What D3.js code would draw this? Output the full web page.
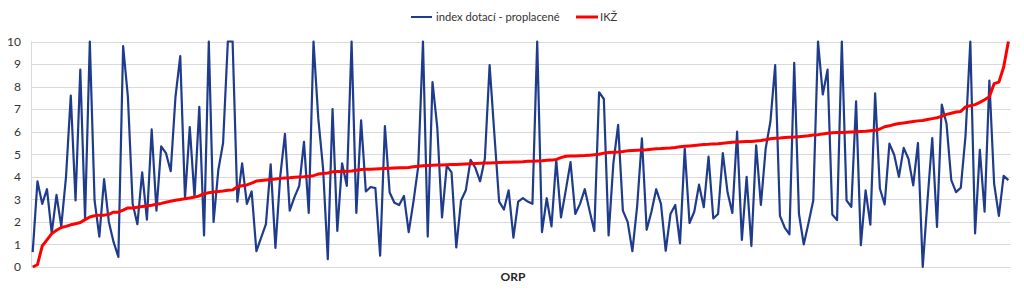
<!DOCTYPE html>
<html><head><meta charset="utf-8">
<script src="https://cdn.jsdelivr.net/npm/d3@7"></script>
<style>
html,body{margin:0;padding:0;background:#fff;}
svg{display:block;font-family:Lato,"Open Sans",sans-serif;}
</style></head>
<body><div id="chart"></div>
<script>
const seriesNames = ["index dotací - proplacené", "IKŽ"];
const yTicks = [0,1,2,3,4,5,6,7,8,9,10];
const xTitle = "ORP";

const indexDotaci = [
0.66,3.8,2.8,3.45,1.5,3.2,1.8,4.0,7.6,2.95,
8.75,2.15,10,2.95,1.35,3.9,2.0,1.1,0.45,9.8,
7.55,2.8,1.9,4.2,2.1,6.1,2.5,5.35,5.05,4.25,
7.55,9.35,3.05,6.2,3.1,7.1,1.4,10,2.0,4.3,
5.5,10,10,2.9,4.6,2.8,3.35,0.7,1.3,1.9,
4.55,0.85,4.0,5.9,2.5,3.1,3.6,5.55,2.4,10,
6.6,4.4,0.35,7.0,1.6,4.6,3.6,10,2.4,6.5,
3.35,3.55,3.5,0.5,6.25,3.3,2.85,2.75,3.15,1.55,
2.9,4.45,10,1.35,8.2,6.2,2.2,4.5,4.2,0.87,
2.95,3.4,4.75,4.4,3.8,4.8,8.95,5.9,2.9,2.55,
3.4,1.3,2.9,3.05,2.9,2.8,10,1.55,3.05,1.8,
4.75,2.2,3.4,4.65,2.35,2.8,3.45,2.5,1.6,7.75,
7.45,1.4,4.6,6.3,2.5,2.0,0.7,2.7,5.7,1.65,
2.45,3.45,2.8,0.72,2.35,2.75,1.05,5.25,1.95,2.45,
3.65,2.65,4.9,2.15,2.35,5.05,3.3,2.4,6.0,1.2,
4.0,0.93,5.4,2.75,5.25,6.45,8.95,2.27,1.75,1.45,
9.05,2.35,1.0,1.95,2.95,10,7.65,8.75,2.33,2.08,
10,2.95,2.67,7.35,0.97,3.4,1.88,7.7,3.48,2.77,
5.47,4.98,4.0,5.28,4.8,3.62,5.5,0.0,2.95,5.72,
1.78,7.2,6.35,3.85,3.32,3.52,5.84,10,1.49,5.2,
2.45,8.27,3.7,2.27,4.04,3.85
];

const ikz = [
0.0,0.1,0.93,1.2,1.48,1.63,1.75,1.8,1.87,1.92,
1.97,2.1,2.22,2.27,2.3,2.3,2.33,2.43,2.43,2.52,
2.62,2.62,2.65,2.68,2.71,2.74,2.78,2.82,2.87,2.92,
2.96,2.99,3.03,3.06,3.1,3.15,3.25,3.29,3.33,3.35,
3.37,3.4,3.42,3.56,3.6,3.64,3.72,3.81,3.84,3.86,
3.88,3.9,3.93,3.95,3.96,3.98,3.99,4.0,4.02,4.05,
4.12,4.15,4.17,4.22,4.23,4.24,4.25,4.26,4.29,4.32,
4.33,4.34,4.35,4.36,4.37,4.38,4.39,4.4,4.4,4.41,
4.45,4.47,4.49,4.5,4.51,4.52,4.52,4.53,4.54,4.55,
4.56,4.57,4.58,4.59,4.6,4.61,4.61,4.62,4.63,4.64,
4.65,4.66,4.66,4.67,4.69,4.69,4.7,4.71,4.73,4.74,
4.77,4.85,4.91,4.92,4.92,4.93,4.94,4.96,4.98,5.0,
5.05,5.08,5.09,5.1,5.12,5.15,5.17,5.18,5.19,5.2,
5.22,5.24,5.25,5.27,5.28,5.3,5.33,5.35,5.37,5.39,
5.41,5.43,5.44,5.46,5.47,5.49,5.51,5.53,5.54,5.55,
5.56,5.57,5.59,5.61,5.64,5.69,5.71,5.72,5.74,5.75,
5.76,5.78,5.8,5.82,5.85,5.87,5.9,5.93,5.95,5.96,
5.97,5.98,5.99,6.0,6.01,6.02,6.04,6.06,6.12,6.22,
6.26,6.32,6.36,6.39,6.42,6.45,6.48,6.5,6.54,6.58,
6.62,6.68,6.77,6.82,6.87,6.9,7.1,7.15,7.2,7.3,
7.42,7.55,8.13,8.2,8.86,10.0
];

const W = 1024, H = 299;
const colors = ["#1f3b8c", "#ff0000"];
const svg = d3.select("#chart").append("svg").attr("width", W).attr("height", H);

const plotL = 31, plotR = 1010.5, plotT = 41.5, plotB = 267;
const n = indexDotaci.length;
const x = d3.scaleLinear().domain([0, n - 1]).range([32.7, 1008.4]);
const y = d3.scaleLinear().domain([0, 10]).range([plotB, plotT]);

// gridlines
const grid = svg.append("g");
grid.selectAll("line").data(yTicks).join("line")
  .attr("x1", plotL).attr("x2", plotR)
  .attr("y1", d => Math.round(y(d)) + 0.5).attr("y2", d => Math.round(y(d)) + 0.5)
  .attr("stroke", "#d9d9d9").attr("stroke-width", 1);
// y axis line
svg.append("line").attr("x1", plotL + 0.5).attr("x2", plotL + 0.5)
  .attr("y1", plotT).attr("y2", plotB).attr("stroke", "#d9d9d9");

// y axis labels via d3 axis
const yAxis = d3.axisLeft(y).tickValues(yTicks).tickSize(0).tickPadding(0).tickFormat(d3.format("d"));
const ya = svg.append("g").attr("transform", `translate(21,0)`).call(yAxis);
ya.select(".domain").remove();
ya.selectAll("text").attr("font-size", 12).attr("fill", "#333333").attr("font-family", "Lato, sans-serif");

// clip
svg.append("clipPath").attr("id", "clip").append("rect")
  .attr("x", plotL).attr("y", plotT - 1.5).attr("width", plotR - plotL).attr("height", plotB - plotT + 3);

const line = d3.line().x((d, i) => x(i)).y(d => y(d));
const g = svg.append("g").attr("clip-path", "url(#clip)");
g.append("path").datum(indexDotaci).attr("d", line)
  .attr("fill", "none").attr("stroke", colors[0]).attr("stroke-width", 2.2).attr("stroke-linejoin", "round");
g.append("path").datum(ikz).attr("d", line)
  .attr("fill", "none").attr("stroke", colors[1]).attr("stroke-width", 3).attr("stroke-linejoin", "round");

// x title
svg.append("text").attr("x", 513).attr("y", 281).attr("text-anchor", "middle")
  .attr("font-size", 12).attr("font-weight", "bold").attr("fill", "#262626").text(xTitle);

// legend
const leg = svg.append("g");
const legItems = [{x1: 411, x2: 432, tx: 436}, {x1: 576, x2: 598, tx: 600}];
legItems.forEach((it, i) => {
  leg.append("line").attr("x1", it.x1).attr("x2", it.x2).attr("y1", 17).attr("y2", 17)
    .attr("stroke", colors[i]).attr("stroke-width", i === 0 ? 2 : 3);
  leg.append("text").attr("x", it.tx).attr("y", 21).attr("font-size", 11.2)
    .attr("fill", "#333333").text(seriesNames[i]);
});
</script>
</body></html>
